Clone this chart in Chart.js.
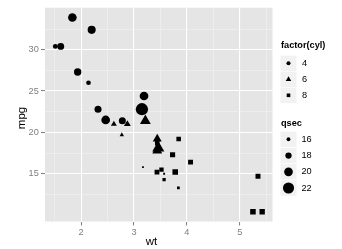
<!DOCTYPE html>
<html><head><meta charset="utf-8">
<script src="https://cdn.jsdelivr.net/npm/chart.js@4"></script>
<style>html,body{margin:0;padding:0;background:#fff}#wrap{width:342px;height:249px}</style>
</head><body><div id="wrap"><canvas id="c" width="342" height="249"></canvas></div>
<script>
// mtcars: wt vs mpg, shape = factor(cyl), size = qsec
const wt   = [2.620,2.875,2.320,3.215,3.440,3.460,3.570,3.190,3.150,3.440,3.440,4.070,3.730,3.780,5.250,5.424,5.345,2.200,1.615,1.835,2.465,3.520,3.435,3.840,3.845,1.935,2.140,1.513,3.170,2.770,3.570,2.780];
const mpg  = [21.0,21.0,22.8,21.4,18.7,18.1,14.3,24.4,22.8,19.2,17.8,16.4,17.3,15.2,10.4,10.4,14.7,32.4,30.4,33.9,21.5,15.5,15.2,13.3,19.2,27.3,26.0,30.4,15.8,19.7,15.0,21.4];
const cyl  = [6,6,4,6,8,6,8,4,4,6,6,8,8,8,8,8,8,4,4,4,4,8,8,8,8,4,4,4,8,6,8,4];
const qsec = [16.46,17.02,18.61,19.44,17.02,20.22,15.84,20.00,22.90,18.30,18.90,17.40,17.60,18.00,17.98,17.82,17.42,19.47,18.52,19.90,20.01,16.87,17.30,15.41,17.05,18.90,16.70,16.90,14.50,15.50,14.60,18.60];

const xTicks = [2,3,4,5];
const xMinor = [1.5,2.5,3.5,4.5,5.5];
const yTicks = [15,20,25,30];
const yMinor = [12.5,17.5,22.5,27.5,32.5];
const cylLevels = [4,6,8];
const qsecBreaks = [16,18,20,22];

const FONT = '"Liberation Sans", Arial, Helvetica, sans-serif';
const S = 0.955;
const qMin = Math.min(...qsec), qMax = Math.max(...qsec);
function sizeOf(q){ return 1 + 5*(q - qMin)/(qMax - qMin); }
function baseR(size){ return 0.375*size*72.27/25.4*S; }
const shapeStyle = {4:'circle',6:'triangle',8:'rect'};
const shapeMul = {4:1, 6:1.555, 8:1.2533};

function expand(arr){ const mn=Math.min(...arr), mx=Math.max(...arr), d=(mx-mn)*0.05; return [mn-d, mx+d]; }
const [xMin,xMax] = expand(wt);
const [yMin,yMax] = expand(mpg);

const points = wt.map((w,i)=>({x:w, y:mpg[i], c:cyl[i], q:qsec[i]}));

function drawShape(ctx, shape, x, y, R){
  ctx.beginPath();
  if (shape===4){ ctx.arc(x,y,R,0,Math.PI*2); }
  else if (shape===6){ const r=R*1.555; ctx.moveTo(x,y-r); ctx.lineTo(x+r*Math.sqrt(3)/2,y+r/2); ctx.lineTo(x-r*Math.sqrt(3)/2,y+r/2); ctx.closePath(); }
  else { const h=R*0.8862; ctx.rect(x-h,y-h,2*h,2*h); }
  ctx.fill();
}

const bgPlugin = {
  id:'bg',
  beforeDraw(chart){
    const {ctx, chartArea:a} = chart;
    ctx.save();
    ctx.fillStyle='#fff'; ctx.fillRect(0,0,chart.width,chart.height);
    ctx.fillStyle='#E5E5E5'; ctx.fillRect(a.left,a.top,a.right-a.left,a.bottom-a.top);
    ctx.restore();
  },
  afterDraw(chart){
    const ctx = chart.ctx;
    ctx.save();
    // axis titles
    ctx.fillStyle='#000'; ctx.textAlign='center'; ctx.textBaseline='middle';
    ctx.font = '11.5px '+FONT;
    ctx.fillText('wt', 151.5, 242);
    ctx.save(); ctx.translate(21.7,118); ctx.rotate(-Math.PI/2); ctx.fillText('mpg',0,0); ctx.restore();
    // legends
    ctx.textAlign='left';
    ctx.font = 'bold 9.2px '+FONT;
    ctx.fillText('factor(cyl)', 281, 45.7);
    ctx.fillText('qsec', 281, 123);
    ctx.font = '9.2px '+FONT;
    cylLevels.forEach((c,i)=>{
      const cy = 63.3 + i*16;
      ctx.fillStyle='#F2F2F2'; ctx.fillRect(280.5, cy-7.7, 16, 15.4);
      ctx.fillStyle='#000';
      drawShape(ctx, c, 288.5, cy, baseR(2));
      ctx.fillText(String(c), 302, cy);
    });
    qsecBreaks.forEach((q,i)=>{
      const cy = 139.3 + i*16.25;
      ctx.fillStyle='#F2F2F2'; ctx.fillRect(280.5, cy-7.7, 16, 15.4);
      ctx.fillStyle='#000';
      drawShape(ctx, 4, 288.5, cy, baseR(sizeOf(q)));
      ctx.fillText(String(q), 301.5, cy);
    });
    ctx.restore();
  }
};

function gridOpts(major){
  return {
    color: c => (c.tick && major.includes(c.tick.value)) ? '#FFFFFF' : '#F2F2F2',
    lineWidth: c => (c.tick && major.includes(c.tick.value)) ? 1.1 : 0.6,
    tickColor: c => (c.tick && major.includes(c.tick.value)) ? '#7F7F7F' : 'rgba(0,0,0,0)',
    tickLength: 4,
    tickWidth: 1,
    drawOnChartArea: true,
    drawTicks: true
  };
}

new Chart(document.getElementById('c'), {
  type:'scatter',
  data:{ datasets:[{
    data: points,
    backgroundColor:'#000',
    borderWidth:0,
    pointStyle: c => shapeStyle[c.raw.c],
    pointRadius: c => baseR(sizeOf(c.raw.q))*shapeMul[c.raw.c],
    pointHoverRadius: c => baseR(sizeOf(c.raw.q))*shapeMul[c.raw.c]
  }]},
  options:{
    responsive:false, devicePixelRatio:1, animation:false, events:[],
    layout:{ padding:{ left:0, top:6, right:69.5, bottom:0 } },
    plugins:{ legend:{display:false}, tooltip:{enabled:false} },
    scales:{
      x:{
        type:'linear', min:xMin, max:xMax,
        afterBuildTicks: s => { s.ticks = [...xMinor, ...xTicks].sort((a,b)=>a-b).map(v=>({value:v})); },
        afterFit: s => { s.height = 27.5; },
        grid: gridOpts(xTicks),
        border:{display:false},
        ticks:{ autoSkip:false, maxRotation:0, padding:1, color:'#7F7F7F', font:{family:FONT, size:9.2},
          callback: v => xTicks.includes(v) ? String(v) : '' }
      },
      y:{
        type:'linear', min:yMin, max:yMax,
        afterBuildTicks: s => { s.ticks = [...yMinor, ...yTicks].sort((a,b)=>a-b).map(v=>({value:v})); },
        afterFit: s => { s.width = 45; },
        grid: gridOpts(yTicks),
        border:{display:false},
        ticks:{ autoSkip:false, padding:2.2, color:'#7F7F7F', font:{family:FONT, size:9.2},
          callback: v => yTicks.includes(v) ? String(v) : '' }
      }
    }
  },
  plugins:[bgPlugin]
});
</script>
</body></html>
